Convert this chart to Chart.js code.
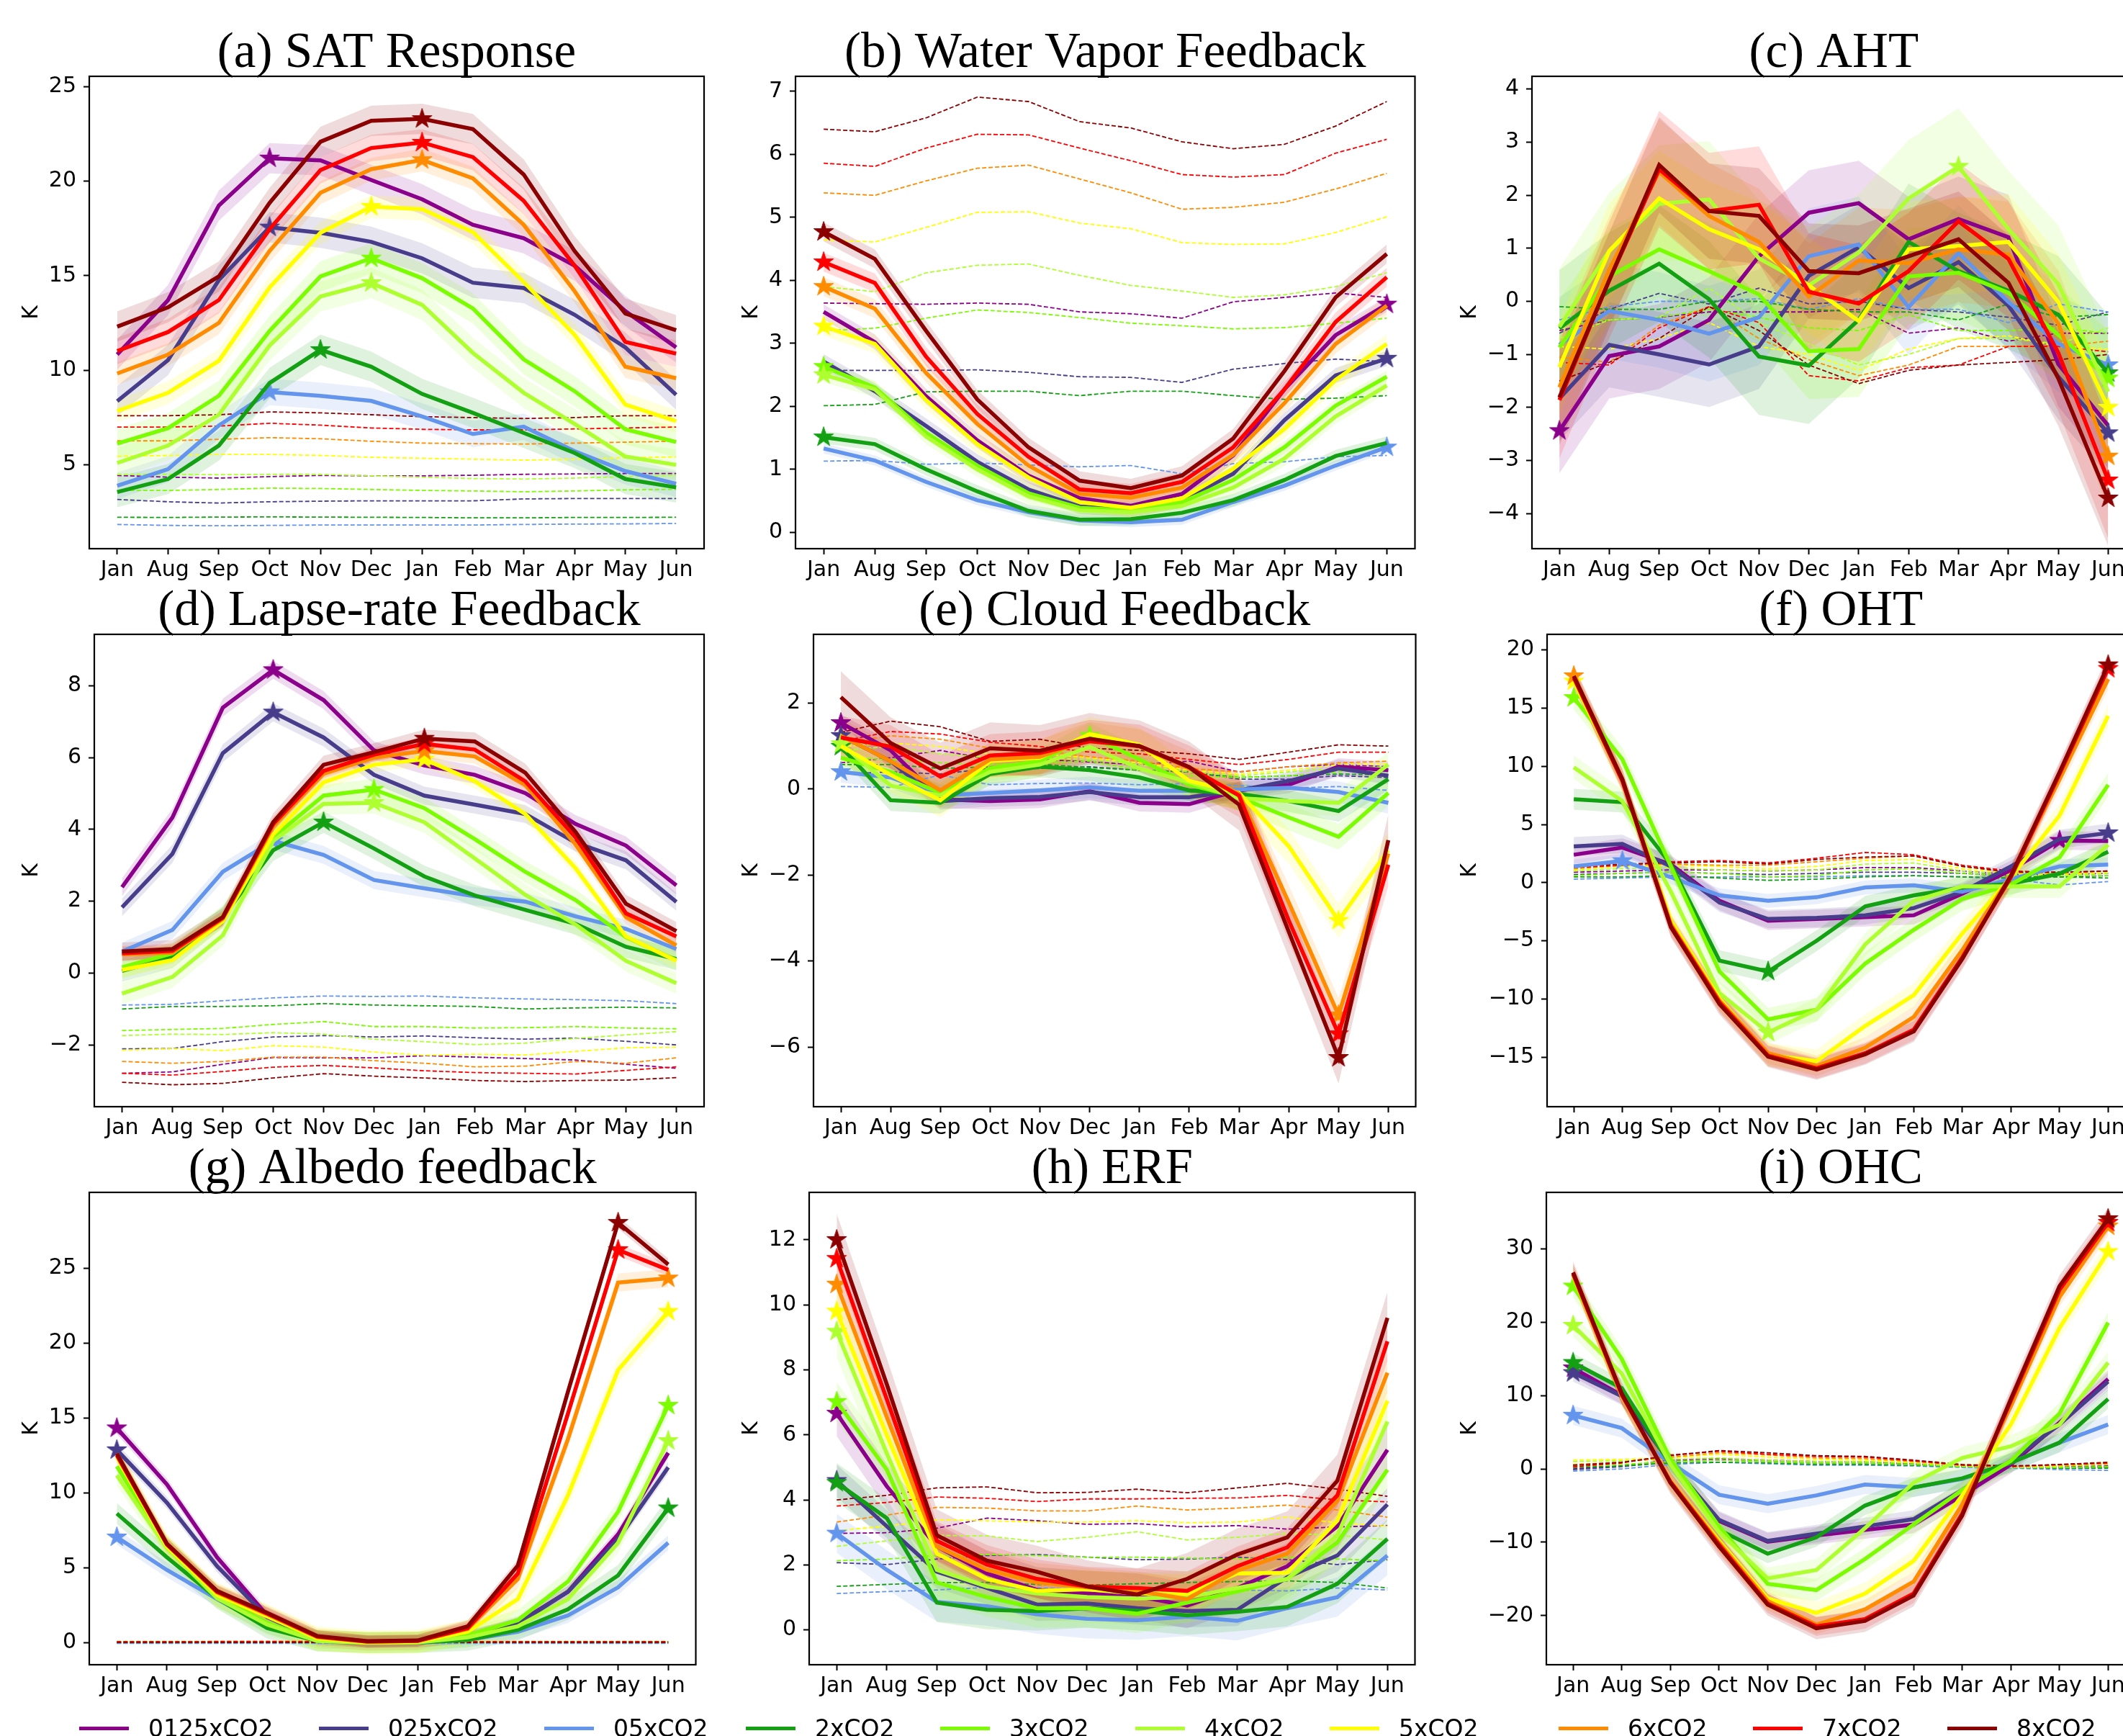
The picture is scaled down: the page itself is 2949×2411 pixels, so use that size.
<!DOCTYPE html>
<html>
<head>
<meta charset="utf-8">
<script src="https://cdn.jsdelivr.net/npm/chart.js@4.4.0/dist/chart.umd.min.js"></script>
<style>
  html, body { margin: 0; padding: 0; background: #fff; }
  body { width: 2949px; height: 2411px; overflow: hidden; position: relative; }
  canvas { position: absolute; }
  .swatch { position: absolute; top: 2398px; width: 69px; height: 5px; }
  .legend-text { position: absolute; top: 2384px; font: 33px/33px 'DejaVu Sans'; color: #000; white-space: nowrap; }
</style>
</head>
<body>
<script>
// x axis months and the ten runs
const months = ['Jan', 'Aug', 'Sep', 'Oct', 'Nov', 'Dec', 'Jan', 'Feb', 'Mar', 'Apr', 'May', 'Jun'];
const runs = ['0125xCO2', '025xCO2', '05xCO2', '2xCO2', '3xCO2', '4xCO2', '5xCO2', '6xCO2', '7xCO2', '8xCO2'];
const runColors = ['#8b008b', '#483d8b', '#6495ed', '#13a013', '#7cfc00', '#adff2f', '#ffff00', '#ff8c00', '#ff0000', '#8b0000'];

// (a) SAT response
const satMean = [
  [10.83, 13.71, 18.71, 21.21, 21.10, 20.06, 19.04, 17.69, 16.98, 15.54, 13.13, 11.21],
  [8.37, 10.54, 14.77, 17.56, 17.27, 16.79, 15.92, 14.63, 14.35, 12.94, 11.21, 8.71],
  [3.90, 4.77, 7.08, 8.85, 8.65, 8.38, 7.56, 6.63, 7.02, 5.73, 4.67, 4.00],
  [3.56, 4.25, 6.02, 9.33, 11.08, 10.19, 8.75, 7.75, 6.69, 5.63, 4.25, 3.81],
  [6.12, 6.94, 8.65, 12.08, 14.96, 15.92, 14.87, 13.27, 10.58, 8.90, 6.88, 6.21],
  [5.10, 6.02, 7.65, 11.31, 13.90, 14.62, 13.46, 10.92, 8.81, 7.17, 5.44, 5.00],
  [7.85, 8.81, 10.50, 14.38, 17.27, 18.65, 18.52, 17.31, 14.67, 11.88, 8.19, 7.31],
  [9.83, 10.83, 12.50, 16.31, 19.38, 20.63, 21.12, 20.15, 17.69, 14.19, 10.19, 9.58],
  [11.02, 12.02, 13.71, 17.46, 20.58, 21.75, 22.04, 21.27, 18.96, 15.54, 11.50, 10.88],
  [12.31, 13.33, 14.96, 18.85, 22.08, 23.19, 23.29, 22.75, 20.35, 16.31, 13.00, 12.12]
];
const satRef = [
  [4.44, 4.35, 4.30, 4.38, 4.44, 4.42, 4.42, 4.45, 4.50, 4.52, 4.54, 4.54],
  [3.17, 3.05, 2.98, 3.05, 3.08, 3.10, 3.10, 3.10, 3.20, 3.22, 3.22, 3.22],
  [1.85, 1.80, 1.78, 1.80, 1.82, 1.82, 1.82, 1.82, 1.85, 1.87, 1.88, 1.90],
  [2.23, 2.22, 2.24, 2.25, 2.24, 2.23, 2.22, 2.20, 2.20, 2.22, 2.22, 2.23],
  [3.65, 3.65, 3.70, 3.77, 3.75, 3.70, 3.65, 3.62, 3.58, 3.62, 3.68, 3.71],
  [4.50, 4.50, 4.48, 4.50, 4.50, 4.42, 4.35, 4.28, 4.25, 4.30, 4.38, 4.45],
  [5.45, 5.50, 5.55, 5.55, 5.50, 5.40, 5.35, 5.30, 5.25, 5.30, 5.38, 5.42],
  [6.27, 6.27, 6.35, 6.44, 6.38, 6.25, 6.15, 6.12, 6.10, 6.15, 6.20, 6.25],
  [7.00, 7.00, 7.05, 7.20, 7.10, 6.95, 6.88, 6.85, 6.85, 6.90, 6.95, 7.00],
  [7.60, 7.60, 7.65, 7.80, 7.75, 7.65, 7.55, 7.50, 7.45, 7.50, 7.60, 7.60]
];
const satSpread = [0.8, 0.8, 0.7, 0.8, 0.8, 0.8, 0.6, 0.6, 0.7, 0.8];
const satTicks = [5, 10, 15, 20, 25];
const satRange = [0.57, 25.54];

// (b) water vapor feedback
const wvMean = [
  [3.50, 3.02, 2.16, 1.46, 0.90, 0.54, 0.42, 0.61, 1.22, 2.27, 3.13, 3.62],
  [2.71, 2.24, 1.69, 1.12, 0.68, 0.41, 0.36, 0.51, 0.93, 1.78, 2.49, 2.76],
  [1.33, 1.14, 0.80, 0.51, 0.32, 0.19, 0.16, 0.20, 0.48, 0.74, 1.06, 1.35],
  [1.51, 1.40, 1.00, 0.65, 0.34, 0.20, 0.21, 0.31, 0.51, 0.83, 1.21, 1.42],
  [2.63, 2.30, 1.58, 1.06, 0.62, 0.39, 0.35, 0.48, 0.83, 1.35, 2.01, 2.47],
  [2.50, 2.27, 1.52, 1.00, 0.57, 0.35, 0.32, 0.42, 0.71, 1.17, 1.84, 2.33],
  [3.27, 2.99, 2.10, 1.40, 0.87, 0.48, 0.39, 0.54, 1.01, 1.64, 2.42, 2.99],
  [3.90, 3.55, 2.53, 1.72, 1.06, 0.61, 0.55, 0.71, 1.23, 2.05, 2.99, 3.60],
  [4.29, 3.96, 2.79, 1.88, 1.20, 0.68, 0.62, 0.80, 1.35, 2.27, 3.34, 4.05],
  [4.77, 4.34, 3.20, 2.11, 1.35, 0.82, 0.70, 0.90, 1.49, 2.56, 3.73, 4.42]
];
const wvRef = [
  [3.64, 3.63, 3.62, 3.64, 3.62, 3.50, 3.47, 3.40, 3.66, 3.73, 3.80, 3.73],
  [2.57, 2.57, 2.57, 2.58, 2.54, 2.47, 2.46, 2.38, 2.59, 2.68, 2.75, 2.71],
  [1.13, 1.14, 1.08, 1.10, 1.07, 1.04, 1.06, 0.93, 1.09, 1.12, 1.20, 1.22],
  [2.01, 2.03, 2.23, 2.24, 2.24, 2.17, 2.24, 2.24, 2.17, 2.11, 2.13, 2.17],
  [3.20, 3.24, 3.40, 3.53, 3.49, 3.41, 3.32, 3.28, 3.23, 3.25, 3.32, 3.40],
  [3.90, 3.82, 4.12, 4.24, 4.26, 4.08, 3.92, 3.83, 3.73, 3.77, 3.90, 4.12],
  [4.64, 4.61, 4.84, 5.08, 5.09, 4.91, 4.82, 4.60, 4.57, 4.58, 4.76, 5.01],
  [5.39, 5.35, 5.58, 5.78, 5.83, 5.61, 5.39, 5.13, 5.16, 5.24, 5.45, 5.70],
  [5.86, 5.81, 6.10, 6.32, 6.31, 6.10, 5.90, 5.68, 5.64, 5.68, 6.02, 6.24],
  [6.40, 6.36, 6.58, 6.91, 6.84, 6.52, 6.42, 6.20, 6.09, 6.16, 6.45, 6.84]
];
const wvSpread = [0.12, 0.12, 0.08, 0.1, 0.1, 0.12, 0.15, 0.15, 0.15, 0.15];
const wvTicks = [0, 1, 2, 3, 4, 5, 6, 7];
const wvRange = [-0.26, 7.24];

// (c) AHT
const ahtMean = [
  [-2.44, -1.03, -0.85, -0.35, 0.85, 1.67, 1.85, 1.17, 1.55, 1.21, -1.18, -2.34],
  [-1.83, -0.82, -1.00, -1.19, -0.85, 0.48, 1.02, 0.25, 0.74, -0.08, -1.42, -2.48],
  [-0.82, -0.18, -0.35, -0.61, -0.30, 0.85, 1.07, -0.11, 0.91, -0.01, -0.80, -1.20],
  [-0.51, 0.20, 0.71, 0.04, -1.04, -1.21, -0.35, 1.12, 0.57, 0.20, -0.25, -1.35],
  [-0.87, 0.47, 0.98, 0.57, 0.13, -0.94, -0.90, 0.47, 0.54, 0.16, -0.63, -1.45],
  [-0.48, 0.95, 1.84, 1.92, 0.81, 0.30, 0.92, 1.94, 2.54, 1.36, 0.33, -1.70],
  [-1.24, 0.95, 1.94, 1.36, 0.98, 0.30, -0.37, 0.98, 1.04, 1.12, -0.01, -2.00],
  [-1.62, 0.60, 2.44, 1.61, 1.12, 0.09, 0.77, 0.72, 0.98, 0.88, -0.42, -2.92],
  [-1.86, 0.40, 2.49, 1.70, 1.82, 0.18, -0.04, 0.57, 1.51, 0.80, -0.97, -3.37],
  [-1.81, 0.40, 2.57, 1.70, 1.61, 0.57, 0.53, 0.85, 1.17, 0.35, -1.45, -3.71]
];
const ahtRef = [
  [-0.55, -0.35, -0.30, -0.20, -0.20, -0.20, -0.15, -0.60, -0.50, -0.75, -0.60, -0.60],
  [-0.60, -0.15, 0.15, -0.05, 0.25, -0.05, 0.00, -0.15, -0.20, -0.30, -0.45, -0.20],
  [-0.35, -0.10, 0.00, 0.00, 0.05, -0.15, 0.05, -0.15, -0.15, -0.40, -0.05, -0.20],
  [-0.10, -0.15, -0.15, 0.00, 0.00, -0.15, -0.20, -0.20, -0.35, -0.05, -0.30, -0.25],
  [-0.45, -0.35, -0.30, -0.15, -0.30, -0.50, -0.55, -0.25, -0.55, -0.55, -0.50, -0.60],
  [-0.70, -0.35, -0.30, 0.25, -0.40, -0.80, -1.20, -1.00, -0.70, -0.70, -0.80, -0.50],
  [-0.85, -0.90, -0.70, -0.40, -0.85, -1.00, -1.30, -0.90, -0.70, -0.65, -0.85, -0.90],
  [-1.05, -1.15, -0.45, -0.10, -0.70, -1.10, -1.40, -1.20, -0.85, -0.85, -0.85, -0.75],
  [-1.15, -1.20, -0.50, -0.10, -0.40, -1.40, -1.50, -1.25, -1.20, -0.85, -0.85, -0.95],
  [-1.50, -1.15, -0.70, -0.10, -0.55, -1.20, -1.55, -1.30, -1.20, -1.15, -1.10, -1.00]
];
const ahtSpread = [0.8, 0.8, 0.9, 1.1, 0.9, 1.1, 0.9, 1.0, 1.1, 0.9];
const ahtTicks = [-4, -3, -2, -1, 0, 1, 2, 3, 4];
const ahtRange = [-4.66, 4.24];

// (d) lapse-rate feedback
const lrMean = [
  [2.39, 4.33, 7.39, 8.44, 7.60, 6.20, 5.78, 5.52, 5.01, 4.15, 3.55, 2.44],
  [1.83, 3.32, 6.12, 7.26, 6.56, 5.52, 4.94, 4.69, 4.43, 3.63, 3.14, 1.98],
  [0.60, 1.20, 2.82, 3.68, 3.29, 2.59, 2.36, 2.14, 1.99, 1.58, 1.23, 0.67],
  [0.06, 0.44, 1.56, 3.42, 4.20, 3.47, 2.69, 2.16, 1.76, 1.37, 0.73, 0.39],
  [0.16, 0.55, 1.58, 3.78, 4.94, 5.11, 4.59, 3.73, 2.82, 2.03, 1.00, 0.36],
  [-0.57, -0.11, 1.05, 3.68, 4.71, 4.74, 4.20, 3.19, 2.18, 1.35, 0.34, -0.28],
  [0.09, 0.36, 1.45, 3.86, 5.31, 5.80, 5.95, 5.34, 4.43, 2.92, 1.02, 0.34],
  [0.52, 0.57, 1.51, 4.08, 5.55, 6.00, 6.18, 6.03, 5.24, 3.58, 1.56, 0.77],
  [0.55, 0.62, 1.54, 4.15, 5.63, 6.08, 6.38, 6.22, 5.34, 3.78, 1.66, 1.02],
  [0.60, 0.67, 1.56, 4.20, 5.80, 6.15, 6.53, 6.45, 5.58, 3.93, 1.93, 1.17]
];
const lrRef = [
  [-2.79, -2.75, -2.54, -2.35, -2.36, -2.36, -2.30, -2.34, -2.38, -2.42, -2.54, -2.65],
  [-2.11, -2.10, -1.91, -1.78, -1.74, -1.78, -1.75, -1.80, -1.84, -1.81, -1.90, -2.00],
  [-0.89, -0.87, -0.77, -0.69, -0.64, -0.65, -0.64, -0.69, -0.72, -0.74, -0.77, -0.85],
  [-1.00, -0.93, -0.93, -0.91, -0.85, -0.89, -0.91, -0.93, -1.00, -0.97, -0.95, -0.97],
  [-1.60, -1.57, -1.54, -1.43, -1.35, -1.49, -1.49, -1.53, -1.52, -1.49, -1.53, -1.55],
  [-1.74, -1.70, -1.71, -1.66, -1.70, -1.84, -1.91, -1.99, -1.95, -1.82, -1.72, -1.63],
  [-2.15, -2.10, -2.16, -2.02, -2.06, -2.20, -2.29, -2.26, -2.28, -2.18, -2.08, -2.06],
  [-2.46, -2.51, -2.46, -2.34, -2.34, -2.44, -2.51, -2.61, -2.59, -2.46, -2.51, -2.36],
  [-2.79, -2.84, -2.74, -2.62, -2.57, -2.64, -2.72, -2.77, -2.79, -2.81, -2.71, -2.61],
  [-3.04, -3.11, -3.07, -2.92, -2.80, -2.87, -2.92, -2.99, -3.02, -2.99, -2.98, -2.91]
];
const lrSpread = [0.25, 0.25, 0.25, 0.3, 0.3, 0.3, 0.2, 0.2, 0.2, 0.25];
const lrTicks = [-2, 0, 2, 4, 6, 8];
const lrRange = [-3.72, 9.43];

// (e) cloud feedback
const cldMean = [
  [1.54, 0.90, -0.24, -0.28, -0.24, -0.05, -0.32, -0.35, -0.03, 0.10, 0.52, 0.44],
  [1.24, 0.65, -0.28, -0.21, -0.18, -0.07, -0.19, -0.19, -0.03, 0.19, 0.48, 0.31],
  [0.40, 0.27, -0.15, -0.09, -0.03, 0.04, -0.04, -0.04, -0.01, 0.03, -0.07, -0.32],
  [0.99, -0.26, -0.32, 0.35, 0.52, 0.44, 0.27, -0.03, -0.11, -0.28, -0.51, 0.23],
  [0.73, 0.40, -0.09, 0.48, 0.65, 1.24, 0.69, 0.10, -0.19, -0.66, -1.11, -0.09],
  [1.05, 0.08, -0.15, 0.40, 0.57, 0.98, 0.48, 0.16, -0.21, -0.28, -0.32, 0.57],
  [1.00, 0.33, -0.26, 0.65, 0.73, 1.28, 1.03, 0.19, -0.09, -1.33, -3.06, -1.42],
  [1.24, 0.65, -0.03, 0.69, 0.75, 1.16, 0.99, 0.48, -0.11, -2.64, -5.26, -1.50],
  [1.20, 0.99, 0.29, 0.78, 0.84, 1.11, 1.00, 0.51, -0.15, -3.06, -5.70, -1.76],
  [2.14, 1.07, 0.48, 0.95, 0.89, 1.17, 1.00, 0.51, -0.36, -3.32, -6.25, -1.19]
];
const cldRef = [
  [0.61, 0.73, 0.90, 0.69, 0.69, 0.63, 0.57, 0.65, 0.40, 0.52, 0.57, 0.52],
  [0.35, 0.40, 0.35, 0.48, 0.48, 0.52, 0.44, 0.40, 0.23, 0.23, 0.31, 0.27],
  [0.06, 0.04, 0.33, 0.10, 0.13, 0.14, 0.10, 0.13, 0.08, 0.02, 0.06, -0.03],
  [0.57, 0.57, 0.48, 0.52, 0.58, 0.50, 0.44, 0.40, 0.27, 0.31, 0.35, 0.33],
  [0.73, 0.69, 0.61, 0.57, 0.61, 0.65, 0.44, 0.31, 0.27, 0.31, 0.40, 0.48],
  [0.90, 0.99, 0.82, 0.73, 0.73, 0.69, 0.57, 0.40, 0.31, 0.40, 0.48, 0.52],
  [0.99, 1.07, 0.99, 0.82, 0.82, 0.73, 0.61, 0.44, 0.35, 0.44, 0.57, 0.58],
  [1.07, 1.24, 1.16, 0.95, 0.90, 0.75, 0.65, 0.48, 0.40, 0.52, 0.61, 0.65],
  [1.11, 1.34, 1.28, 1.09, 0.99, 0.86, 0.82, 0.69, 0.57, 0.69, 0.86, 0.86],
  [1.32, 1.58, 1.45, 1.11, 1.16, 0.95, 0.90, 0.82, 0.69, 0.86, 1.03, 1.00]
];
const cldSpread = [0.2, 0.2, 0.25, 0.25, 0.3, 0.3, 0.4, 0.4, 0.5, 0.6];
const cldTicks = [-6, -4, -2, 0, 2];
const cldRange = [-7.39, 3.60];

// (f) OHT
const ohtMean = [
  [2.40, 3.02, 1.56, -1.56, -3.27, -3.12, -2.96, -2.80, -0.93, 1.09, 3.62, 3.58],
  [3.12, 3.33, 1.40, -1.71, -3.12, -3.02, -2.80, -2.18, -0.78, 1.40, 3.74, 4.27],
  [1.40, 1.87, 0.47, -1.09, -1.56, -1.25, -0.41, -0.22, -0.78, 0.31, 1.40, 1.56],
  [7.17, 6.92, 1.56, -6.70, -7.63, -4.99, -2.03, -1.09, -0.41, -0.09, 0.78, 2.65],
  [15.89, 10.60, 1.40, -7.63, -11.75, -10.91, -6.95, -4.05, -1.40, -0.16, 2.18, 8.41],
  [9.91, 7.01, -0.78, -9.50, -12.87, -10.91, -5.30, -1.56, -0.31, -0.31, -0.31, 3.27],
  [17.30, 8.73, -3.27, -9.97, -14.80, -15.33, -12.31, -9.66, -4.36, 0.47, 5.77, 14.33],
  [17.76, 8.88, -3.58, -10.13, -14.65, -15.74, -14.18, -11.53, -5.77, 0.62, 8.88, 17.50],
  [17.60, 8.73, -3.74, -10.28, -14.86, -15.95, -14.65, -12.62, -6.39, 0.47, 9.35, 18.39],
  [17.76, 8.88, -3.83, -10.44, -14.96, -16.05, -14.74, -12.78, -6.54, 0.62, 9.50, 18.70]
];
const ohtRef = [
  [0.9, 1.0, 1.1, 1.1, 1.0, 1.1, 1.3, 1.3, 1.0, 0.7, 0.7, 0.8],
  [0.7, 0.8, 0.9, 0.8, 0.7, 0.8, 0.9, 0.9, 0.8, 0.6, 0.5, 0.6],
  [0.3, 0.4, 0.5, 0.5, 0.5, 0.5, 0.6, 0.6, 0.5, 0.3, -0.2, 0.1],
  [0.5, 0.5, 0.6, 0.4, 0.2, 0.3, 0.5, 0.6, 0.5, 0.4, 0.5, 0.4],
  [0.6, 0.8, 0.9, 0.8, 0.5, 0.6, 1.1, 1.2, 0.8, 0.6, 0.6, 0.6],
  [1.0, 1.2, 1.3, 1.1, 1.0, 1.1, 1.6, 1.7, 1.0, 0.7, 0.6, 0.8],
  [1.1, 1.4, 1.5, 1.4, 1.2, 1.4, 1.9, 2.0, 1.2, 0.8, 0.7, 0.9],
  [1.2, 1.5, 1.6, 1.5, 1.5, 1.8, 2.1, 2.3, 1.4, 0.9, 0.8, 1.0],
  [1.3, 1.5, 1.8, 1.9, 1.7, 2.1, 2.6, 2.4, 1.5, 1.0, 0.9, 1.0],
  [1.4, 1.6, 1.7, 1.8, 1.6, 2.0, 2.2, 2.3, 1.4, 0.9, 0.9, 1.0]
];
const ohtSpread = [0.8, 0.8, 0.6, 0.9, 1.0, 1.0, 1.0, 0.9, 0.9, 0.9];
const ohtTicks = [-15, -10, -5, 0, 5, 10, 15, 20];
const ohtRange = [-19.25, 21.34];

// (g) albedo feedback
const albMean = [
  [14.32, 10.56, 5.70, 1.82, 0.29, 0.05, 0.10, 0.36, 1.33, 3.40, 7.23, 12.67],
  [12.86, 9.34, 5.10, 1.70, 0.24, 0.05, 0.07, 0.32, 1.26, 3.40, 6.92, 11.70],
  [7.04, 4.85, 2.91, 1.09, 0.12, 0.00, 0.00, 0.19, 0.73, 1.82, 3.69, 6.67],
  [8.62, 5.70, 2.96, 0.97, 0.12, 0.00, 0.02, 0.17, 0.85, 2.23, 4.49, 8.98],
  [11.77, 6.43, 3.11, 1.33, 0.17, 0.02, 0.05, 0.49, 1.50, 4.08, 8.74, 15.83],
  [11.17, 6.31, 2.96, 1.21, 0.12, 0.00, 0.02, 0.36, 1.09, 2.91, 6.67, 13.47],
  [12.38, 6.43, 3.20, 1.75, 0.29, 0.02, 0.07, 0.73, 2.91, 9.83, 18.20, 22.09],
  [12.62, 6.55, 3.35, 1.89, 0.36, 0.07, 0.12, 0.92, 4.25, 13.59, 24.03, 24.32],
  [12.50, 6.55, 3.40, 1.94, 0.41, 0.07, 0.12, 0.97, 4.61, 15.29, 26.21, 24.88],
  [12.62, 6.60, 3.45, 1.99, 0.44, 0.10, 0.15, 1.09, 5.15, 16.75, 28.03, 25.24]
];
const albRef = [
  [0.05, 0.05, 0.05, 0.06, 0.06, 0.06, 0.06, 0.05, 0.05, 0.05, 0.05, 0.05],
  [-0.03, -0.03, -0.02, -0.02, -0.02, -0.02, -0.02, -0.02, -0.03, -0.03, -0.03, -0.03],
  [-0.05, -0.05, -0.04, -0.04, -0.04, -0.04, -0.04, -0.04, -0.05, -0.05, -0.05, -0.05],
  [0.02, 0.02, 0.03, 0.03, 0.03, 0.03, 0.03, 0.02, 0.02, 0.02, 0.02, 0.02],
  [0.06, 0.06, 0.07, 0.07, 0.07, 0.07, 0.06, 0.06, 0.06, 0.06, 0.06, 0.06],
  [0.04, 0.04, 0.05, 0.05, 0.05, 0.05, 0.05, 0.04, 0.04, 0.04, 0.04, 0.04],
  [0.08, 0.08, 0.08, 0.09, 0.09, 0.09, 0.08, 0.08, 0.08, 0.08, 0.08, 0.08],
  [0.03, 0.03, 0.04, 0.04, 0.04, 0.04, 0.04, 0.03, 0.03, 0.03, 0.03, 0.03],
  [0.07, 0.07, 0.08, 0.08, 0.08, 0.08, 0.07, 0.07, 0.07, 0.07, 0.07, 0.07],
  [0.01, 0.01, 0.02, 0.02, 0.02, 0.02, 0.02, 0.01, 0.01, 0.01, 0.01, 0.01]
];
const albSpread = [0.4, 0.4, 0.5, 0.7, 0.7, 0.7, 0.8, 0.6, 0.4, 0.4];
const albTicks = [0, 5, 10, 15, 20, 25];
const albRange = [-1.47, 30.05];

// (h) ERF
const erfMean = [
  [6.66, 4.42, 2.57, 1.74, 1.23, 1.12, 1.04, 0.75, 1.29, 1.96, 3.19, 5.54],
  [4.59, 3.19, 1.79, 1.29, 0.78, 0.81, 0.67, 0.58, 0.62, 1.62, 2.29, 3.86],
  [2.97, 1.85, 0.86, 0.73, 0.48, 0.34, 0.30, 0.41, 0.28, 0.67, 1.01, 2.29],
  [4.53, 3.44, 0.84, 0.62, 0.58, 0.67, 0.59, 0.45, 0.56, 0.71, 1.42, 2.80],
  [7.02, 4.93, 1.46, 1.01, 0.67, 0.67, 0.50, 0.84, 1.18, 1.57, 2.69, 4.93],
  [9.18, 5.43, 1.85, 1.34, 1.12, 1.01, 0.97, 1.01, 1.29, 1.57, 2.91, 6.41],
  [9.80, 5.99, 2.35, 1.57, 1.20, 1.25, 1.12, 1.12, 1.74, 1.76, 3.36, 7.05],
  [10.63, 6.55, 2.57, 1.85, 1.46, 1.31, 1.20, 0.95, 1.82, 2.35, 3.97, 7.91],
  [11.42, 7.10, 2.74, 2.01, 1.57, 1.34, 1.29, 1.20, 1.96, 2.54, 4.14, 8.88],
  [12.00, 7.56, 2.91, 2.13, 1.79, 1.34, 1.09, 1.57, 2.32, 2.85, 4.59, 9.60]
];
const erfRef = [
  [2.97, 2.99, 3.13, 3.44, 3.36, 3.25, 3.27, 3.17, 3.21, 3.10, 3.17, 3.21],
  [2.07, 2.01, 2.18, 2.29, 2.32, 2.24, 2.16, 2.18, 2.24, 2.16, 2.01, 2.16],
  [1.12, 1.18, 1.23, 1.31, 1.29, 1.26, 1.23, 1.15, 1.23, 1.20, 1.29, 1.23],
  [1.34, 1.40, 1.46, 1.46, 1.40, 1.38, 1.42, 1.46, 1.49, 1.51, 1.46, 1.29],
  [2.13, 2.18, 2.29, 2.32, 2.29, 2.24, 2.24, 2.21, 2.18, 2.24, 2.18, 2.13],
  [2.57, 2.74, 2.91, 2.89, 2.72, 2.85, 3.02, 2.77, 2.85, 2.97, 2.91, 2.77],
  [3.06, 3.19, 3.39, 3.36, 3.32, 3.32, 3.36, 3.30, 3.32, 3.47, 3.30, 3.19],
  [3.32, 3.53, 3.77, 3.75, 3.66, 3.66, 3.81, 3.69, 3.75, 3.84, 3.69, 3.47],
  [3.81, 3.92, 4.09, 4.05, 3.95, 4.03, 4.03, 4.05, 4.06, 4.14, 4.00, 3.94],
  [4.00, 4.14, 4.37, 4.40, 4.22, 4.23, 4.33, 4.22, 4.37, 4.51, 4.33, 4.11]
];
const erfSpread = [0.7, 0.5, 0.6, 0.6, 0.6, 0.8, 0.6, 0.6, 0.6, 0.8];
const erfTicks = [0, 2, 4, 6, 8, 10, 12];
const erfRange = [-1.07, 13.46];

// (i) OHC
const ohcMean = [
  [13.74, 10.02, 0.84, -7.09, -9.92, -9.08, -8.33, -7.59, -3.62, 0.60, 6.30, 12.25],
  [13.10, 9.92, 0.84, -6.94, -9.82, -8.83, -7.84, -6.85, -2.88, 1.09, 6.05, 11.90],
  [7.29, 5.56, 0.84, -3.52, -4.76, -3.62, -2.13, -2.53, -1.39, 0.84, 3.57, 6.05],
  [14.48, 11.01, 0.60, -8.33, -11.56, -9.33, -5.01, -2.53, -1.29, 0.84, 3.57, 9.52],
  [24.90, 14.98, 1.34, -7.84, -15.67, -16.52, -12.30, -7.59, -2.88, 1.09, 7.54, 19.94],
  [19.54, 13.00, 0.60, -8.58, -14.93, -13.79, -8.09, -1.88, 1.49, 3.08, 6.05, 14.48],
  [26.39, 9.92, -1.64, -9.82, -17.66, -19.64, -17.01, -12.55, -3.62, 6.05, 19.20, 29.61],
  [26.49, 10.02, -1.64, -10.07, -18.00, -21.23, -19.15, -15.38, -4.86, 8.53, 23.41, 33.08],
  [26.64, 10.12, -1.79, -10.32, -18.35, -21.48, -20.49, -17.01, -6.10, 9.28, 24.40, 33.58],
  [26.79, 10.27, -1.88, -10.57, -18.50, -21.73, -20.73, -17.26, -6.35, 9.52, 24.90, 34.08]
];
const ohcRef = [
  [0.0, 0.4, 1.2, 1.4, 1.2, 1.0, 1.0, 0.7, 0.4, 0.3, 0.3, 0.4],
  [-0.1, 0.3, 1.0, 1.2, 1.0, 0.8, 0.8, 0.6, 0.3, 0.2, 0.1, 0.2],
  [-0.3, 0.0, 0.6, 0.9, 0.7, 0.5, 0.5, 0.4, 0.2, 0.1, -0.1, -0.2],
  [0.2, 0.4, 0.8, 0.9, 0.8, 0.6, 0.6, 0.5, 0.3, 0.2, 0.1, 0.1],
  [0.4, 0.6, 1.0, 1.2, 1.0, 0.8, 0.8, 0.6, 0.3, 0.2, 0.2, 0.3],
  [1.0, 1.1, 1.3, 1.5, 1.2, 1.0, 1.0, 0.8, 0.4, 0.2, 0.4, 0.6],
  [1.2, 1.3, 1.5, 2.0, 1.6, 1.3, 1.2, 0.9, 0.5, 0.3, 0.4, 0.9],
  [0.6, 0.9, 1.6, 2.2, 1.9, 1.5, 1.4, 1.0, 0.5, 0.3, 0.5, 0.7],
  [0.3, 0.8, 1.9, 2.4, 2.0, 1.7, 1.6, 1.1, 0.5, 0.3, 0.6, 0.8],
  [0.5, 0.9, 1.8, 2.5, 2.2, 1.8, 1.7, 1.2, 0.6, 0.4, 0.6, 0.9]
];
const ohcSpread = [1.2, 1.2, 1.3, 1.3, 1.5, 1.5, 1.5, 1.3, 1.3, 1.5];
const ohcTicks = [-20, -10, 0, 10, 20, 30];
const ohcRange = [-26.7, 37.7];

// page layout: plot box [left, top, right, bottom] and x of the "K" label
const panels = [
  { title: '(a) SAT Response', mean: satMean, ref: satRef, spread: satSpread, ticks: satTicks, range: satRange, box: [124, 106, 978, 762], kx: 44 },
  { title: '(b) Water Vapor Feedback', mean: wvMean, ref: wvRef, spread: wvSpread, ticks: wvTicks, range: wvRange, box: [1105, 106, 1977, 762], kx: 1044 },
  { title: '(c) AHT', mean: ahtMean, ref: ahtRef, spread: ahtSpread, ticks: ahtTicks, range: ahtRange, box: [2128, 106, 2978, 762], kx: 2042 },
  { title: '(d) Lapse-rate Feedback', mean: lrMean, ref: lrRef, spread: lrSpread, ticks: lrTicks, range: lrRange, box: [131, 881, 978, 1537], kx: 44 },
  { title: '(e) Cloud Feedback', mean: cldMean, ref: cldRef, spread: cldSpread, ticks: cldTicks, range: cldRange, box: [1130, 881, 1978, 1537], kx: 1044 },
  { title: '(f) OHT', mean: ohtMean, ref: ohtRef, spread: ohtSpread, ticks: ohtTicks, range: ohtRange, box: [2149, 881, 2977, 1537], kx: 2042 },
  { title: '(g) Albedo feedback', mean: albMean, ref: albRef, spread: albSpread, ticks: albTicks, range: albRange, box: [124, 1656, 978, 2312], kx: 44 },
  { title: '(h) ERF', mean: erfMean, ref: erfRef, spread: erfSpread, ticks: erfTicks, range: erfRange, box: [1124, 1656, 1977, 2312], kx: 1044 },
  { title: '(i) OHC', mean: ohcMean, ref: ohcRef, spread: ohcSpread, ticks: ohcTicks, range: ohcRange, box: [2148, 1656, 2977, 2312], kx: 2042 }
];
const legendX = [110, 443, 756, 1036, 1306, 1577, 1847, 2165, 2435, 2705];

const TOP_PAD = 100, X_AXIS_H = 70;
const tickFont = { family: 'DejaVu Sans', size: 30 };

function rgba(hex, a) {
  const n = parseInt(hex.slice(1), 16);
  return 'rgba(' + (n >> 16) + ',' + ((n >> 8) & 255) + ',' + (n & 255) + ',' + a + ')';
}

// filled five-point star, like matplotlib's '*' marker
function makeStar(color) {
  const r = 14.5, size = 34;
  const cv = document.createElement('canvas');
  cv.width = size; cv.height = size;
  const c = cv.getContext('2d');
  c.translate(size / 2, size / 2);
  c.beginPath();
  for (let k = 0; k < 10; k++) {
    const rad = k % 2 === 0 ? r : r * 0.382;
    const ang = -Math.PI / 2 + k * Math.PI / 5;
    c.lineTo(rad * Math.cos(ang), rad * Math.sin(ang));
  }
  c.closePath();
  c.fillStyle = color; c.fill();
  c.lineWidth = 1; c.strokeStyle = color; c.stroke();
  return cv;
}
const stars = runColors.map(makeStar);

// axes frame and serif panel title
const framePlugin = {
  id: 'frame',
  afterDraw(chart, args, opts) {
    const a = chart.chartArea, c = chart.ctx;
    c.save();
    c.strokeStyle = '#000';
    c.lineWidth = 2.2;
    c.strokeRect(a.left, a.top, a.right - a.left, a.bottom - a.top);
    c.fillStyle = '#000';
    c.font = '69px "Liberation Serif"';
    c.textAlign = 'center';
    c.textBaseline = 'alphabetic';
    c.fillText(opts.text, (a.left + a.right) / 2, a.top - 13);
    c.restore();
  }
};

const pts = arr => arr.map((v, i) => ({ x: i, y: v }));
const fmt = v => (v < 0 ? '\u2212' : '') + Math.abs(v);
const tickGrid = { display: true, drawOnChartArea: false, drawTicks: true, tickLength: 8, tickWidth: 2, tickColor: '#000' };

panels.forEach(p => {
  const left = p.kx - 25;
  const top = p.box[1] - TOP_PAD;
  const w = Math.round(p.box[2] - left + 6);
  const h = Math.round(p.box[3] - p.box[1]) + TOP_PAD + X_AXIS_H;
  const yW = p.box[0] - left;

  const cv = document.createElement('canvas');
  cv.width = w; cv.height = h;
  cv.style.left = left + 'px';
  cv.style.top = top + 'px';
  document.body.appendChild(cv);

  const datasets = [];
  p.mean.forEach((vals, s) => {
    const col = runColors[s];
    // spread band
    datasets.push({
      data: pts(vals.map(v => v + p.spread[s])), borderWidth: 0, pointRadius: 0,
      fill: '+1', backgroundColor: rgba(col, 0.14), order: 300 - s
    });
    datasets.push({
      data: pts(vals.map(v => v - p.spread[s])), borderWidth: 0, pointRadius: 0,
      fill: false, order: 300 - s
    });
  });
  p.ref.forEach((vals, s) => {
    datasets.push({
      data: pts(vals), borderColor: runColors[s], borderWidth: 1.8, borderDash: [6, 3],
      pointRadius: 0, fill: false, order: 200 - s
    });
  });
  p.mean.forEach((vals, s) => {
    let best = 0;
    vals.forEach((v, i) => { if (Math.abs(v) > Math.abs(vals[best])) best = i; });
    datasets.push({
      data: pts(vals), borderColor: runColors[s], borderWidth: 5.5, fill: false,
      pointRadius: vals.map((v, i) => i === best ? 12 : 0),
      pointStyle: stars[s], order: 100 - s
    });
  });

  new Chart(cv, {
    type: 'line',
    data: { datasets },
    plugins: [framePlugin],
    options: {
      responsive: false,
      animation: false,
      events: [],
      devicePixelRatio: 1,
      layout: { padding: { top: TOP_PAD, right: 6, left: 0, bottom: 0 } },
      elements: { line: { tension: 0 } },
      plugins: { legend: { display: false }, tooltip: { enabled: false }, frame: { text: p.title } },
      scales: {
        x: {
          type: 'linear', min: -0.55, max: 11.55, bounds: 'data',
          afterBuildTicks: s => { s.ticks = months.map((m, i) => ({ value: i })); },
          afterFit: s => { s.height = X_AXIS_H; },
          ticks: { callback: v => months[v], font: tickFont, color: '#000', padding: 4, maxRotation: 0, autoSkip: false },
          grid: tickGrid,
          border: { display: false }
        },
        y: {
          type: 'linear', min: p.range[0], max: p.range[1], bounds: 'data',
          afterBuildTicks: s => { s.ticks = p.ticks.map(v => ({ value: v })); },
          afterFit: s => { s.width = yW; },
          ticks: { callback: fmt, font: tickFont, color: '#000', padding: 10 },
          grid: tickGrid,
          border: { display: false },
          title: { display: true, text: 'K', font: tickFont, color: '#000', padding: { top: 7, bottom: 0 } }
        }
      }
    }
  });
});

// shared legend along the bottom
runs.forEach((name, s) => {
  const sw = document.createElement('div');
  sw.className = 'swatch';
  sw.style.left = legendX[s] + 'px';
  sw.style.background = runColors[s];
  document.body.appendChild(sw);
  const tx = document.createElement('div');
  tx.className = 'legend-text';
  tx.style.left = (legendX[s] + 96) + 'px';
  tx.textContent = name;
  document.body.appendChild(tx);
});
</script>
</body>
</html>
